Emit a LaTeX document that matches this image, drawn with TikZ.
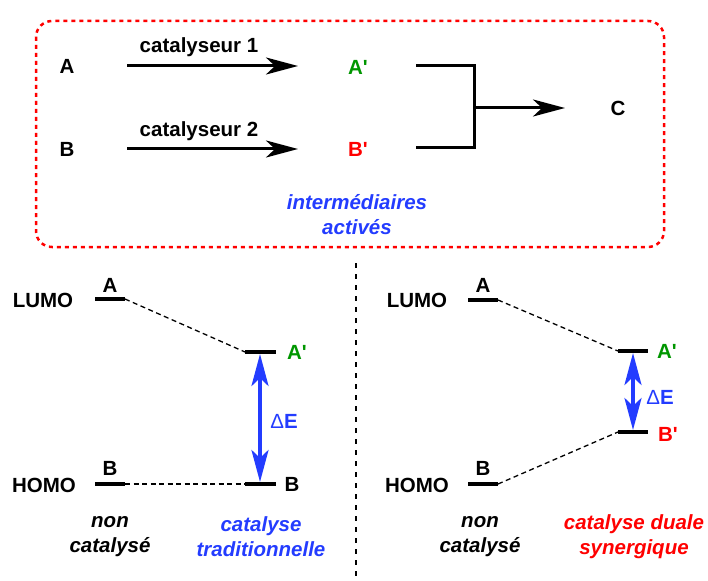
\documentclass[tikz,border=0pt]{standalone}
\usepackage{fontspec}
\setmainfont{Liberation Sans}
\usetikzlibrary{arrows.meta}
\definecolor{agreen}{RGB}{0,150,0}
\definecolor{ablue}{RGB}{35,60,255}
\definecolor{ared}{RGB}{255,0,0}
\newcommand{\prm}{\textquotesingle}
\begin{document}
\begin{tikzpicture}[x=1pt,y=-1pt,
  lbl/.style={font=\fontsize{20.5}{24}\selectfont\bfseries, inner sep=0pt, align=center},
  ital/.style={lbl, font=\fontsize{20.5}{25}\selectfont\bfseries\itshape},
  rxn/.style={line width=3pt, -{Stealth[length=32pt,width=17pt,inset=9pt]}},
  level/.style={line width=4pt},
  link/.style={line width=1.3pt, dash pattern=on 5pt off 3.5pt},
  gap/.style={line width=3.8pt, ablue, {Stealth[length=32pt,width=17pt,inset=8pt]}-{Stealth[length=32pt,width=17pt,inset=8pt]}},
  dlt/.style={lbl, ablue, font=\fontsize{20.5}{24}\selectfont}]
\useasboundingbox (0,0) rectangle (708,580);

% activation box
\draw[ared, line width=2.5pt, dash pattern=on 4pt off 4pt, rounded corners=16pt]
  (36,21) rectangle (664,247);

% top scheme
\node[lbl] (A) at (67,66) {A};
\node[lbl] (B) at (67,149) {B};
\node[lbl, agreen] (Ap) at (358,67) {A\prm};
\node[lbl, ared] (Bp) at (358,149) {B\prm};
\node[lbl] (C) at (618,108) {C};
\coordinate (a1) at (127,66);
\coordinate (a2) at (298,66);
\coordinate (b1) at (127,149);
\coordinate (b2) at (298,149);
\draw[rxn] (a1) -- (a2);
\draw[rxn] (b1) -- (b2);
\node[lbl] (cat1) at (199,47) {catalyseur 1};
\node[lbl] (cat2) at (199,131) {catalyseur 2};
\coordinate (j1) at (416,66);
\coordinate (j2) at (474,66);
\coordinate (j3) at (474,148);
\coordinate (j4) at (416,148);
\draw[line width=3pt] (j1) -- (j2) -- (j3) -- (j4);
\coordinate (jm) at (474,108);
\coordinate (je) at (565,108);
\draw[rxn] (jm) -- (je);
\node[ital, ablue] (inter) at (357,215) {intermédiaires\\activés};

% separator
\coordinate (s1) at (356,263);
\coordinate (s2) at (356,580);
\draw[line width=2.5pt, dash pattern=on 5pt off 6pt] (s1) -- (s2);

% left: traditional catalysis
\node[lbl] (lumoL) at (43,300) {LUMO};
\node[lbl] (homoL) at (44,485) {HOMO};
\coordinate (LA1) at (95,299); \coordinate (LA2) at (125,299);
\coordinate (LAp1) at (245,352); \coordinate (LAp2) at (276,352);
\coordinate (LB1) at (95,484); \coordinate (LB2) at (125,484);
\coordinate (LBr1) at (245,484); \coordinate (LBr2) at (276,484);
\draw[level] (LA1) -- (LA2);
\draw[level] (LAp1) -- (LAp2);
\draw[level] (LB1) -- (LB2);
\draw[level] (LBr1) -- (LBr2);
\node[lbl] (LAlab) at (110,285) {A};
\node[lbl] (LBlab) at (110,468) {B};
\node[lbl, agreen] (LAplab) at (297,352) {A\prm};
\node[lbl] (LBrlab) at (292,484) {B};
\draw[link] (LA2) -- (LAp1);
\draw[link] (LB2) -- (LBr1);
\coordinate (Lg1) at (260,354);
\coordinate (Lg2) at (260,482);
\draw[gap] (Lg1) -- (Lg2);
\node[dlt] (LdE) at (284,421) {Δ\textbf{E}};
\node[ital] (Lnon) at (110,537) {non\\catalysé};
\node[ital, ablue] (Ltrad) at (261,537) {catalyse\\traditionnelle};

% right: synergistic dual catalysis
\node[lbl] (lumoR) at (417,300) {LUMO};
\node[lbl] (homoR) at (417,485) {HOMO};
\coordinate (RA1) at (468,300); \coordinate (RA2) at (498,300);
\coordinate (RAp1) at (618,351); \coordinate (RAp2) at (648,351);
\coordinate (RB1) at (468,484); \coordinate (RB2) at (498,484);
\coordinate (RBp1) at (618,432); \coordinate (RBp2) at (648,432);
\draw[level] (RA1) -- (RA2);
\draw[level] (RAp1) -- (RAp2);
\draw[level] (RB1) -- (RB2);
\draw[level] (RBp1) -- (RBp2);
\node[lbl] (RAlab) at (483,285) {A};
\node[lbl] (RBlab) at (483,468) {B};
\node[lbl, agreen] (RAplab) at (667,351) {A\prm};
\node[lbl, ared] (RBplab) at (668,434) {B\prm};
\draw[link] (RA2) -- (RAp1);
\draw[link] (RB2) -- (RBp1);
\coordinate (Rg1) at (633,353);
\coordinate (Rg2) at (633,430);
\draw[gap] (Rg1) -- (Rg2);
\node[dlt] (RdE) at (660,397) {Δ\textbf{E}};
\node[ital] (Rnon) at (480,537) {non\\catalysé};
\node[ital, ared] (Rsyn) at (634,537) {catalyse duale\\synergique};
\end{tikzpicture}
\end{document}
